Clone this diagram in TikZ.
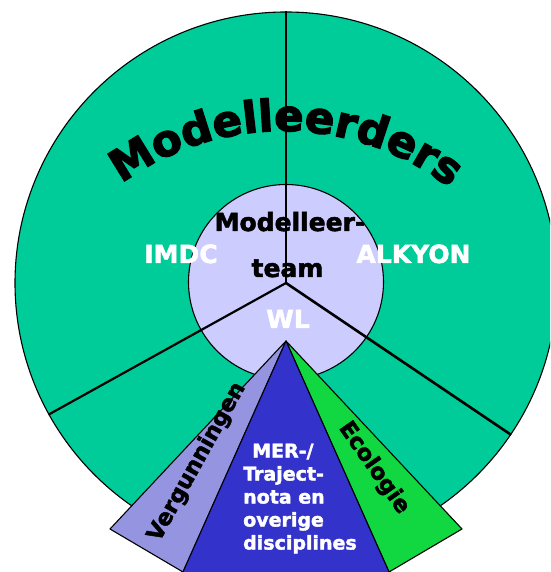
\documentclass[tikz,border=0pt]{standalone}
\usepackage{fontspec}
\setmainfont{DejaVu Sans}[BoldFeatures={FakeBold=2}]
\newfontfamily\heavyfont{DejaVu Sans Bold}[FakeBold=3]
\usetikzlibrary{decorations.text}
\definecolor{tealc}{HTML}{00CC99}
\definecolor{lavc}{HTML}{CCCCFF}
\definecolor{violc}{HTML}{9494E0}
\definecolor{bluec}{HTML}{3333CC}
\definecolor{greenc}{HTML}{11D840}
\newcommand\modfont{\fontsize{43.5}{50}\heavyfont}
\begin{document}
\begin{tikzpicture}[x=1pt,y=1pt,
  ring/.style={circle,draw=black,line width=1.1pt,inner sep=0pt},
  spoke/.style={draw=black,line width=2.2pt},
  tri/.style={draw=black,line width=1.1pt,line join=round},
  lbl/.style={font=\fontsize{25}{25}\selectfont\bfseries,inner sep=0pt,anchor=base},
  side/.style={font=\fontsize{22.5}{22.5}\selectfont\bfseries,inner sep=0pt,text=black},
  mer/.style={font=\fontsize{19}{23}\selectfont\bfseries,inner sep=0pt,align=left,text=white,anchor=north west}]
\useasboundingbox (0,0) rectangle (550,572);
\clip (0,0) rectangle (550,572);
% circles
\coordinate (O) at (286,289);
\node[ring,fill=tealc,minimum size=542pt] (outer) at (O) {};
\node[ring,fill=lavc,minimum size=195pt] (inner) at (286,290) {};
% spokes
\draw[spoke] (O) -- (outer.90);
\draw[spoke] (O) -- (outer.209.5);
\draw[spoke,line width=2.6pt] (O) -- (outer.-34.3);
% triangles
\coordinate (apex) at (286,231);
\coordinate (vl) at (110,43);
\coordinate (vb) at (183,0);
\coordinate (gr) at (462,43);
\coordinate (gb) at (389,0);
\coordinate (bl) at (178.5,-10);
\coordinate (br) at (393.5,-10);
\filldraw[tri,fill=violc] (apex) -- (vl) -- (vb) -- cycle;
\filldraw[tri,fill=greenc] (apex) -- (gr) -- (gb) -- cycle;
\filldraw[tri,fill=bluec] (apex) -- (bl) -- (br) -- cycle;
% curved title
\coordinate (arcc) at (283,168);
\path[decorate,decoration={text along path,text align=center,
  text={|\modfont|Modelleerders}}]
  (arcc) ++(159.3:273) arc[start angle=159.3,end angle=19.3,radius=273];
% labels
\node[lbl,text=black] (mt1) at (290,341) {Modelleer-};
\node[lbl,text=black] (mt2) at (287.5,295) {team};
\node[lbl,text=white] (wl) at (288,244) {WL};
\node[lbl,text=white] (imdc) at (181,309) {IMDC};
\node[lbl,text=white] (alk) at (413.5,309) {ALKYON};
\node[side,rotate=61] (verg) at (197,110) {Vergunningen};
\node[side,rotate=-55] (eco) at (374,104) {Ecologie};
\node[mer] (merl) at (243,128.5) {\hspace*{9pt}MER-/\\Traject-\\nota en\\overige\\disciplines};
\end{tikzpicture}
\end{document}
